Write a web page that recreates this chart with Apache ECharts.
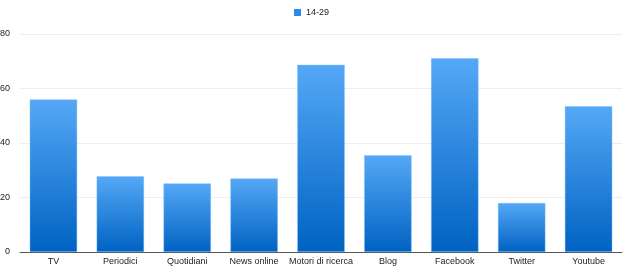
<!DOCTYPE html>
<html><head><meta charset="utf-8">
<script src="https://cdn.jsdelivr.net/npm/echarts@6/dist/echarts.min.js"></script>
<style>html,body{margin:0;padding:0;background:#fff}#c{width:623px;height:266px}</style>
</head><body><div id="c"></div>
<script>
const categories = ['TV','Periodici','Quotidiani','News online','Motori di ricerca','Blog','Facebook','Twitter','Youtube'];
const seriesName = '14-29';
const values = [56.0, 27.8, 25.2, 27.0, 68.7, 35.5, 71.1, 18.0, 53.5];
const yTicks = [0, 20, 40, 60, 80];

const chart = echarts.init(document.getElementById('c'));
chart.setOption({
  animation: false,
  textStyle: {fontFamily: 'Liberation Sans, Arial, sans-serif'},
  legend: {
    top: 3, left: 'center',
    itemWidth: 7, itemHeight: 7, itemGap: 6,
    icon: 'rect',
    itemStyle: {color: '#2d8ae6', borderWidth: 0},
    textStyle: {fontSize: 9, color: '#222'},
    data: [seriesName]
  },
  grid: {left: 20, right: 1, top: 34, bottom: 14, containLabel: false, outerBoundsMode: 'none'},
  xAxis: {
    type: 'category', data: categories,
    axisLine: {lineStyle: {color: '#555', width: 1}},
    axisTick: {show: false},
    axisLabel: {fontSize: 9, color: '#222', margin: 5, interval: 0}
  },
  yAxis: {
    type: 'value', min: yTicks[0], max: yTicks[yTicks.length-1], interval: 20,
    axisLine: {show: false}, axisTick: {show: false},
    splitLine: {lineStyle: {color: '#eeeeee', width: 1}},
    axisLabel: {fontSize: 9, color: '#222', margin: 10}
  },
  series: [{
    name: seriesName, type: 'bar', data: values,
    barWidth: '71%',
    itemStyle: {
      color: new echarts.graphic.LinearGradient(0,0,0,1,[
        {offset:0, color:'#55a8f6'},{offset:1, color:'#0062c2'}
      ]),
      borderColor: 'rgba(120,190,255,0.7)', borderWidth: 0.6
    }
  }]
});
</script></body></html>
